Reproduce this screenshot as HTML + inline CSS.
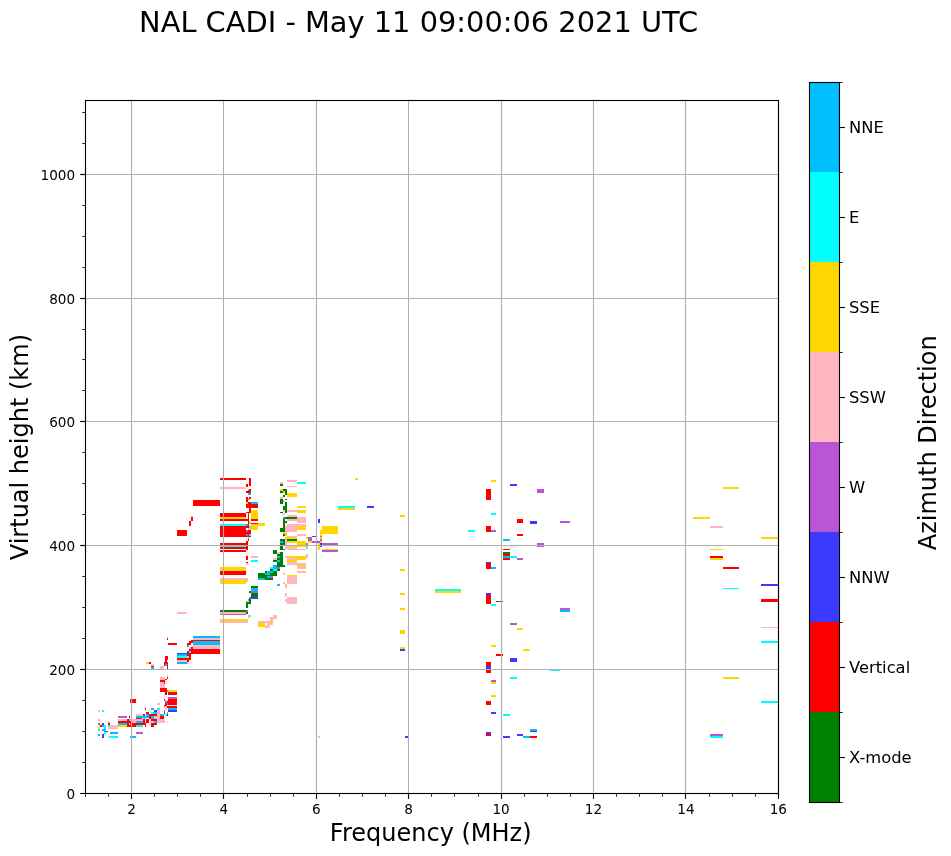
<!DOCTYPE html>
<html><head><meta charset="utf-8"><title>NAL CADI</title>
<style>
html,body{margin:0;padding:0;background:#fff;}
body{width:951px;height:856px;overflow:hidden;font-family:"DejaVu Sans","Liberation Sans",sans-serif;}
svg{display:block}
text{fill:#000;font-family:"DejaVu Sans","Liberation Sans",sans-serif;}
.tk{font-size:13.6px}
.cb{font-size:16.35px}
.lb{font-size:24px}
.tt{font-size:28.85px}
</style></head><body>
<svg width="951" height="856" viewBox="0 0 951 856">
<rect width="951" height="856" fill="#fff"/>
<g shape-rendering="crispEdges">
<path fill="#ffb6c1" d="M98 710h2v2h-2z"/>
<path fill="#00ffff" d="M102 710h2v2h-2z"/>
<path fill="#ffb6c1" d="M98 719h2v2h-2zM108 721h2v2h-2z"/>
<path fill="#ba55d3" d="M98 723h2v2h-2z"/>
<path fill="#ffdbe0" d="M100 723h2v2h-2z"/>
<path fill="#3b3bff" d="M102 723h2v2h-2z"/>
<path fill="#ff0000" d="M108 723h2v2h-2z"/>
<path fill="#ffdbe0" d="M98 725h2v2h-2z"/>
<path fill="#ff0000" d="M100 725h2v2h-2z"/>
<path fill="#00bfff" d="M102 725h2v2h-2z"/>
<path fill="#00ffff" d="M104 725h2v2h-2zM108 725h2v2h-2z"/>
<path fill="#ffb6c1" d="M110 725h8v4h-8z"/>
<path fill="#ffd700" d="M98 727h2v2h-2z"/>
<path fill="#00ffff" d="M104 727h2v2h-2z"/>
<path fill="#ffb6c1" d="M108 727h2v2h-2z"/>
<path fill="#00ffff" d="M98 729h2v2h-2z"/>
<path fill="#00bfff" d="M102 729h4v2h-4zM104 731h2v1h-2z"/>
<path fill="#ff0000" d="M106 731h2v1h-2z"/>
<path fill="#00ffff" d="M104 732h2v2h-2z"/>
<path fill="#00bfff" d="M110 732h8v2h-8zM98 734h2v2h-2z"/>
<path fill="#3b3bff" d="M102 734h2v4h-2z"/>
<path fill="#ffb6c1" d="M108 736h2v2h-2z"/>
<path fill="#00ffff" d="M110 736h8v2h-8z"/>
<path fill="#00bfff" d="M130 736h6v2h-6z"/>
<path fill="#ba55d3" d="M118 716h9v2h-9z"/>
<path fill="#ff0000" d="M129 716h1v2h-1z"/>
<path fill="#ffb6c1" d="M118 719h9v2h-9z"/>
<path fill="#ff0000" d="M127 719h2v2h-2z"/>
<path fill="#00bfff" d="M129 719h1v2h-1z"/>
<path fill="#ffb6c1" d="M130 719h6v4h-6zM136 714h6v2h-6z"/>
<path fill="#00bfff" d="M136 716h6v2h-6z"/>
<path fill="#ff0000" d="M136 718h6v1h-6z"/>
<path fill="#ffb6c1" d="M136 719h6v2h-6z"/>
<path fill="#00bfff" d="M136 721h6v2h-6z"/>
<path fill="#ff0000" d="M136 723h6v2h-6z"/>
<path fill="#00ffff" d="M136 725h6v2h-6z"/>
<path fill="#ff0000" d="M118 721h13v2h-13z"/>
<path fill="#00bfff" d="M118 723h9v2h-9z"/>
<path fill="#ff0000" d="M127 723h9v4h-9z"/>
<path fill="#ffdbe0" d="M129 723h1v2h-1z"/>
<path fill="#ffd700" d="M118 725h9v2h-9z"/>
<path fill="#ba55d3" d="M136 732h7v2h-7z"/>
<path fill="#ff0000" d="M130 699h6v4h-6z"/>
<path fill="#ba55d3" d="M165 701h2v2h-2z"/>
<path fill="#3b3bff" d="M167 701h1v2h-1z"/>
<path fill="#ff0000" d="M168 699h9v6h-9z"/>
<path fill="#ffb6c1" d="M157 703h3v2h-3z"/>
<path fill="#ff0000" d="M165 703h2v2h-2z"/>
<path fill="#ba55d3" d="M167 703h1v2h-1z"/>
<path fill="#ff0000" d="M164 705h3v1h-3z"/>
<path fill="#ffdbe0" d="M168 705h9v1h-9z"/>
<path fill="#ffb6c1" d="M164 706h3v2h-3z"/>
<path fill="#ff0000" d="M167 706h10v2h-10zM145 708h1v2h-1z"/>
<path fill="#00bfff" d="M151 708h3v2h-3z"/>
<path fill="#00ffff" d="M157 708h3v2h-3z"/>
<path fill="#ffb6c1" d="M165 708h2v2h-2z"/>
<path fill="#00bfff" d="M168 708h9v2h-9z"/>
<path fill="#3b3bff" d="M154 710h3v2h-3z"/>
<path fill="#ffb6c1" d="M157 710h3v11h-3z"/>
<path fill="#ba55d3" d="M164 710h1v2h-1z"/>
<path fill="#3b3bff" d="M168 710h9v2h-9z"/>
<path fill="#ff0000" d="M146 712h3v2h-3z"/>
<path fill="#00ffff" d="M151 712h3v2h-3z"/>
<path fill="#00bfff" d="M154 712h3v2h-3z"/>
<path fill="#ff0000" d="M164 712h1v2h-1z"/>
<path fill="#00bfff" d="M167 712h1v2h-1z"/>
<path fill="#ffdbe0" d="M142 714h1v2h-1z"/>
<path fill="#3b3bff" d="M143 714h2v2h-2z"/>
<path fill="#00bfff" d="M146 714h3v2h-3z"/>
<path fill="#ff0000" d="M149 714h8v2h-8z"/>
<path fill="#00bfff" d="M160 714h4v2h-4z"/>
<path fill="#00ffff" d="M165 714h2v2h-2z"/>
<path fill="#ff0000" d="M167 714h1v2h-1z"/>
<path fill="#00bfff" d="M142 716h7v2h-7z"/>
<path fill="#ff0000" d="M149 716h2v3h-2z"/>
<path fill="#00bfff" d="M151 716h3v3h-3z"/>
<path fill="#ffb6c1" d="M154 716h3v3h-3z"/>
<path fill="#ff0000" d="M160 716h4v3h-4z"/>
<path fill="#ffdbe0" d="M164 716h1v2h-1z"/>
<path fill="#00ffff" d="M143 718h3v1h-3z"/>
<path fill="#ffb6c1" d="M142 719h1v2h-1z"/>
<path fill="#ff0000" d="M143 719h2v4h-2z"/>
<path fill="#ffb6c1" d="M145 719h1v4h-1z"/>
<path fill="#ff0000" d="M146 719h3v4h-3z"/>
<path fill="#ffdbe0" d="M149 719h2v6h-2z"/>
<path fill="#ff0000" d="M151 719h6v2h-6z"/>
<path fill="#ffb6c1" d="M157 719h8v4h-8z"/>
<path fill="#00bfff" d="M142 721h1v2h-1z"/>
<path fill="#ffb6c1" d="M151 721h3v2h-3z"/>
<path fill="#00bfff" d="M154 721h3v2h-3z"/>
<path fill="#ffb6c1" d="M167 721h1v2h-1z"/>
<path fill="#ff0000" d="M142 723h4v2h-4zM151 723h6v2h-6z"/>
<path fill="#00ffff" d="M142 725h1v2h-1z"/>
<path fill="#ff0000" d="M145 725h1v2h-1zM151 725h3v2h-3z"/>
<path fill="#ffd700" d="M168 690h9v2h-9z"/>
<path fill="#ff0000" d="M168 692h9v3h-9z"/>
<path fill="#ba55d3" d="M168 697h9v2h-9z"/>
<path fill="#ff0000" d="M168 699h9v2h-9zM160 688h7v4h-7z"/>
<path fill="#00bfff" d="M167 690h1v2h-1z"/>
<path fill="#ffb6c1" d="M160 682h5v6h-5z"/>
<path fill="#ff0000" d="M160 680h5v2h-5z"/>
<path fill="#ffb6c1" d="M160 677h5v3h-5z"/>
<path fill="#ff0000" d="M167 677h1v2h-1zM165 679h2v1h-2z"/>
<path fill="#ffb6c1" d="M167 675h1v2h-1z"/>
<path fill="#ffdbe0" d="M165 680h2v2h-2z"/>
<path fill="#ff0000" d="M164 682h1v2h-1zM165 692h2v3h-2z"/>
<path fill="#ffdbe0" d="M164 692h1v7h-1z"/>
<path fill="#ff0000" d="M164 699h1v2h-1z"/>
<path fill="#ffdbe0" d="M165 699h3v2h-3zM167 697h1v2h-1z"/>
<path fill="#ffd700" d="M146 662h3v2h-3z"/>
<path fill="#ff0000" d="M149 662h2v2h-2z"/>
<path fill="#ffb6c1" d="M151 664h3v2h-3z"/>
<path fill="#ff0000" d="M151 666h3v1h-3z"/>
<path fill="#00bfff" d="M151 667h3v2h-3z"/>
<path fill="#ffb6c1" d="M160 666h4v3h-4z"/>
<path fill="#ff0000" d="M165 656h3v4h-3zM165 660h2v2h-2z"/>
<path fill="#ffdbe0" d="M164 660h1v2h-1z"/>
<path fill="#ff0000" d="M164 662h4v2h-4zM164 664h1v2h-1z"/>
<path fill="#00bfff" d="M165 664h2v2h-2z"/>
<path fill="#3b3bff" d="M167 664h1v2h-1z"/>
<path fill="#ff0000" d="M167 666h1v3h-1z"/>
<path fill="#3b3bff" d="M177 653h10v1h-10z"/>
<path fill="#00bfff" d="M177 654h10v2h-10z"/>
<path fill="#00ffff" d="M177 656h10v2h-10z"/>
<path fill="#ffd700" d="M187 656h2v2h-2z"/>
<path fill="#ff0000" d="M177 658h14v2h-14z"/>
<path fill="#ffb6c1" d="M177 660h10v2h-10z"/>
<path fill="#ff0000" d="M187 660h2v2h-2z"/>
<path fill="#00bfff" d="M177 662h10v2h-10z"/>
<path fill="#ffb6c1" d="M187 662h2v2h-2z"/>
<path fill="#ff0000" d="M168 643h9v2h-9zM167 638h1v2h-1z"/>
<path fill="#ffdbe0" d="M167 636h1v2h-1z"/>
<path fill="#00bfff" d="M193 636h27v2h-27z"/>
<path fill="#ffb6c1" d="M193 638h27v2h-27z"/>
<path fill="#ff0000" d="M191 640h29v1h-29z"/>
<path fill="#00bfff" d="M193 641h27v4h-27z"/>
<path fill="#ffb6c1" d="M193 645h27v4h-27z"/>
<path fill="#ff0000" d="M189 649h31v4h-31zM187 653h33v1h-33zM189 641h4v2h-4zM187 643h4v2h-4z"/>
<path fill="#00bfff" d="M187 645h2v2h-2z"/>
<path fill="#ffdbe0" d="M191 645h2v2h-2z"/>
<path fill="#ffb6c1" d="M189 647h2v2h-2z"/>
<path fill="#ff0000" d="M191 647h2v2h-2z"/>
<path fill="#3b3bff" d="M187 651h2v2h-2z"/>
<path fill="#00ffff" d="M189 651h2v2h-2z"/>
<path fill="#ff0000" d="M187 654h4v2h-4zM189 656h2v2h-2z"/>
<path fill="#ffd700" d="M220 582h26v2h-26z"/>
<path fill="#008000" d="M251 586h7v2h-7z"/>
<path fill="#00bfff" d="M251 588h7v3h-7z"/>
<path fill="#ba55d3" d="M251 591h7v2h-7z"/>
<path fill="#008000" d="M249 591h2v2h-2zM251 593h7v4h-7z"/>
<path fill="#3b3bff" d="M251 597h7v2h-7z"/>
<path fill="#ba55d3" d="M249 597h2v2h-2z"/>
<path fill="#00bfff" d="M248 599h1v2h-1z"/>
<path fill="#008000" d="M249 599h2v5h-2z"/>
<path fill="#ffb6c1" d="M246 601h2v1h-2z"/>
<path fill="#008000" d="M246 602h3v2h-3zM246 604h2v4h-2zM220 610h26v2h-26z"/>
<path fill="#ba55d3" d="M246 610h2v2h-2z"/>
<path fill="#ffb6c1" d="M220 612h26v2h-26z"/>
<path fill="#008000" d="M246 612h2v2h-2z"/>
<path fill="#ba55d3" d="M220 614h26v1h-26z"/>
<path fill="#ffd700" d="M248 615h1v2h-1z"/>
<path fill="#00ffff" d="M249 615h2v2h-2z"/>
<path fill="#ffb6c1" d="M248 617h1v2h-1z"/>
<path fill="#ffd700" d="M220 619h28v2h-28z"/>
<path fill="#ffb6c1" d="M220 621h28v2h-28zM177 612h10v2h-10z"/>
<path fill="#ff0000" d="M220 543h26v2h-26zM246 541h2v4h-2zM248 539h1v2h-1z"/>
<path fill="#ffdbe0" d="M248 542h1v3h-1z"/>
<path fill="#00ffff" d="M220 545h26v2h-26z"/>
<path fill="#ff0000" d="M246 545h2v5h-2zM220 547h26v2h-26zM220 550h26v2h-26z"/>
<path fill="#ffdbe0" d="M246 554h2v2h-2z"/>
<path fill="#ff0000" d="M246 556h2v4h-2z"/>
<path fill="#ffdbe0" d="M248 556h1v2h-1z"/>
<path fill="#ffb6c1" d="M251 556h7v2h-7z"/>
<path fill="#00ffff" d="M251 560h7v2h-7z"/>
<path fill="#ff0000" d="M246 562h2v1h-2z"/>
<path fill="#ffb6c1" d="M246 563h2v2h-2z"/>
<path fill="#ffd700" d="M220 567h26v4h-26z"/>
<path fill="#ff0000" d="M220 571h26v4h-26z"/>
<path fill="#ffb6c1" d="M220 578h28v2h-28z"/>
<path fill="#ffd700" d="M220 580h28v2h-28z"/>
<path fill="#008000" d="M258 573h7v5h-7z"/>
<path fill="#ff0000" d="M193 500h27v6h-27zM220 513h26v4h-26z"/>
<path fill="#ffd700" d="M220 517h26v2h-26z"/>
<path fill="#ff0000" d="M220 519h28v2h-28z"/>
<path fill="#00ffff" d="M220 524h26v2h-26z"/>
<path fill="#ba55d3" d="M246 524h2v2h-2z"/>
<path fill="#ff0000" d="M220 526h26v11h-26zM246 497h2v5h-2z"/>
<path fill="#ffd700" d="M246 502h2v2h-2z"/>
<path fill="#ff0000" d="M246 504h2v4h-2zM246 512h3v1h-3zM246 526h2v2h-2z"/>
<path fill="#ba55d3" d="M246 530h2v2h-2z"/>
<path fill="#ff0000" d="M246 532h2v2h-2z"/>
<path fill="#ba55d3" d="M246 534h2v2h-2z"/>
<path fill="#ff0000" d="M246 536h2v1h-2zM248 512h1v25h-1zM248 499h1v1h-1z"/>
<path fill="#00ffff" d="M248 537h1v2h-1z"/>
<path fill="#ff0000" d="M249 497h2v2h-2zM248 502h3v6h-3zM249 508h2v5h-2z"/>
<path fill="#ffd700" d="M249 521h2v2h-2z"/>
<path fill="#00ffff" d="M249 523h2v1h-2zM249 526h2v2h-2z"/>
<path fill="#ffb6c1" d="M248 528h3v2h-3z"/>
<path fill="#ff0000" d="M248 530h3v4h-3z"/>
<path fill="#00ffff" d="M249 534h2v2h-2z"/>
<path fill="#ff0000" d="M248 536h3v1h-3z"/>
<path fill="#00bfff" d="M251 502h7v2h-7z"/>
<path fill="#ff0000" d="M251 504h7v4h-7z"/>
<path fill="#ffd700" d="M251 510h7v9h-7z"/>
<path fill="#ff0000" d="M251 519h7v2h-7zM251 523h7v1h-7z"/>
<path fill="#ffd700" d="M251 524h7v6h-7zM258 523h7v3h-7z"/>
<path fill="#ff0000" d="M220 478h26v2h-26z"/>
<path fill="#ffb6c1" d="M220 487h26v2h-26z"/>
<path fill="#ff0000" d="M249 478h2v8h-2z"/>
<path fill="#ffdbe0" d="M248 478h1v2h-1z"/>
<path fill="#ff0000" d="M246 484h2v3h-2zM249 489h2v4h-2zM246 491h3v2h-3zM248 490h1v1h-1z"/>
<path fill="#00bfff" d="M248 493h3v2h-3z"/>
<path fill="#ffdbe0" d="M191 515h2v2h-2z"/>
<path fill="#ff0000" d="M191 517h2v4h-2zM189 521h2v5h-2zM177 530h10v6h-10z"/>
<path fill="#ffb6c1" d="M287 480h10v2h-10z"/>
<path fill="#00ffff" d="M297 482h9v2h-9z"/>
<path fill="#ffb6c1" d="M280 482h3v2h-3z"/>
<path fill="#008000" d="M280 484h3v2h-3z"/>
<path fill="#ffb6c1" d="M287 486h10v1h-10z"/>
<path fill="#ffd700" d="M280 489h3v2h-3z"/>
<path fill="#008000" d="M283 489h4v2h-4zM280 491h3v2h-3z"/>
<path fill="#ffd700" d="M283 491h2v2h-2z"/>
<path fill="#008000" d="M285 491h2v4h-2z"/>
<path fill="#ffd700" d="M287 493h10v4h-10z"/>
<path fill="#008000" d="M283 495h2v2h-2z"/>
<path fill="#ffb6c1" d="M280 497h3v2h-3z"/>
<path fill="#008000" d="M280 499h3v5h-3zM285 499h2v1h-2z"/>
<path fill="#ffb6c1" d="M283 500h2v2h-2z"/>
<path fill="#008000" d="M285 502h2v11h-2zM283 506h2v4h-2z"/>
<path fill="#ffd700" d="M297 506h9v2h-9z"/>
<path fill="#ffb6c1" d="M283 510h2v2h-2zM287 510h10v2h-10z"/>
<path fill="#ffd700" d="M297 510h9v3h-9z"/>
<path fill="#008000" d="M280 512h3v1h-3z"/>
<path fill="#ffb6c1" d="M283 513h2v2h-2zM287 515h10v2h-10z"/>
<path fill="#00ffff" d="M338 506h17v2h-17z"/>
<path fill="#ffd700" d="M338 508h17v2h-17z"/>
<path fill="#ffb6c1" d="M251 556h7v2h-7z"/>
<path fill="#ba55d3" d="M283 517h2v2h-2z"/>
<path fill="#008000" d="M285 517h12v2h-12z"/>
<path fill="#ffb6c1" d="M297 517h9v6h-9z"/>
<path fill="#008000" d="M283 519h2v13h-2z"/>
<path fill="#ffb6c1" d="M287 519h10v2h-10z"/>
<path fill="#008000" d="M285 521h2v2h-2z"/>
<path fill="#ffb6c1" d="M287 524h10v8h-10zM297 524h9v2h-9zM285 526h2v8h-2z"/>
<path fill="#ffd700" d="M297 526h9v4h-9z"/>
<path fill="#008000" d="M280 528h3v4h-3z"/>
<path fill="#ffd700" d="M283 532h2v2h-2z"/>
<path fill="#008000" d="M283 534h2v2h-2z"/>
<path fill="#ffd700" d="M285 534h2v2h-2z"/>
<path fill="#ffb6c1" d="M297 534h9v2h-9zM287 536h10v1h-10zM283 536h2v1h-2z"/>
<path fill="#ffd700" d="M285 537h12v2h-12z"/>
<path fill="#008000" d="M280 539h5v2h-5z"/>
<path fill="#ffb6c1" d="M285 539h2v10h-2z"/>
<path fill="#008000" d="M287 539h10v2h-10z"/>
<path fill="#00bfff" d="M280 541h3v2h-3z"/>
<path fill="#008000" d="M283 541h2v2h-2z"/>
<path fill="#ffd700" d="M287 541h10v2h-10zM297 541h9v4h-9z"/>
<path fill="#008000" d="M280 543h5v2h-5zM280 545h3v5h-3z"/>
<path fill="#ffd700" d="M287 545h21v2h-21z"/>
<path fill="#ffb6c1" d="M287 547h10v3h-10z"/>
<path fill="#3b3bff" d="M283 549h2v1h-2z"/>
<path fill="#008000" d="M273 550h4v4h-4z"/>
<path fill="#ffb6c1" d="M277 552h3v2h-3z"/>
<path fill="#008000" d="M280 552h3v8h-3zM277 554h3v2h-3z"/>
<path fill="#00bfff" d="M277 556h3v2h-3z"/>
<path fill="#ffb6c1" d="M285 556h2v2h-2z"/>
<path fill="#ffd700" d="M287 556h19v2h-19z"/>
<path fill="#ffb6c1" d="M273 558h4v2h-4z"/>
<path fill="#008000" d="M277 558h3v2h-3z"/>
<path fill="#ffb6c1" d="M287 558h10v2h-10z"/>
<path fill="#ffd700" d="M297 558h9v2h-9z"/>
<path fill="#008000" d="M294 517h3v2h-3z"/>
<path fill="#ffb6c1" d="M294 519h3v2h-3z"/>
<path fill="#3b3bff" d="M318 519h2v4h-2z"/>
<path fill="#ffb6c1" d="M294 524h3v8h-3z"/>
<path fill="#ffd700" d="M322 526h16v4h-16zM320 530h18v4h-18zM320 534h2v2h-2z"/>
<path fill="#ffb6c1" d="M294 536h3v1h-3z"/>
<path fill="#3b3bff" d="M312 536h4v1h-4z"/>
<path fill="#ba55d3" d="M320 536h2v1h-2z"/>
<path fill="#ffd700" d="M294 537h3v2h-3zM306 537h2v2h-2z"/>
<path fill="#ba55d3" d="M308 537h4v4h-4z"/>
<path fill="#ffd700" d="M320 537h2v2h-2z"/>
<path fill="#008000" d="M294 539h3v2h-3z"/>
<path fill="#ba55d3" d="M320 539h2v2h-2z"/>
<path fill="#ffd700" d="M294 541h12v2h-12zM308 541h4v2h-4z"/>
<path fill="#ba55d3" d="M312 541h4v2h-4z"/>
<path fill="#3b3bff" d="M316 541h2v2h-2z"/>
<path fill="#ba55d3" d="M318 541h2v2h-2z"/>
<path fill="#ffd700" d="M320 541h2v2h-2z"/>
<path fill="#ba55d3" d="M306 543h2v2h-2z"/>
<path fill="#ffd700" d="M318 543h2v7h-2z"/>
<path fill="#3b3bff" d="M320 543h2v4h-2z"/>
<path fill="#ba55d3" d="M322 543h16v2h-16z"/>
<path fill="#ffb6c1" d="M294 547h3v2h-3z"/>
<path fill="#00ffff" d="M306 547h2v2h-2z"/>
<path fill="#ffb6c1" d="M294 549h12v1h-12z"/>
<path fill="#ffd700" d="M322 549h16v1h-16z"/>
<path fill="#ba55d3" d="M322 550h16v2h-16z"/>
<path fill="#ffb6c1" d="M306 554h2v4h-2z"/>
<path fill="#00ffff" d="M251 560h7v2h-7z"/>
<path fill="#008000" d="M273 560h4v2h-4z"/>
<path fill="#00bfff" d="M277 560h3v2h-3z"/>
<path fill="#008000" d="M280 560h3v2h-3z"/>
<path fill="#ffd700" d="M287 560h10v2h-10z"/>
<path fill="#008000" d="M277 562h6v3h-6z"/>
<path fill="#ffb6c1" d="M287 562h10v1h-10zM287 563h19v2h-19z"/>
<path fill="#00bfff" d="M273 565h4v4h-4z"/>
<path fill="#008000" d="M277 565h8v2h-8z"/>
<path fill="#ffd700" d="M297 565h9v2h-9z"/>
<path fill="#00ffff" d="M270 567h3v2h-3z"/>
<path fill="#ba55d3" d="M277 567h3v2h-3z"/>
<path fill="#ffb6c1" d="M297 567h9v2h-9z"/>
<path fill="#008000" d="M270 569h3v2h-3z"/>
<path fill="#00ffff" d="M273 569h4v2h-4z"/>
<path fill="#008000" d="M277 569h3v2h-3zM265 571h2v2h-2z"/>
<path fill="#00bfff" d="M267 571h6v2h-6z"/>
<path fill="#008000" d="M273 571h4v2h-4z"/>
<path fill="#ffb6c1" d="M297 571h9v2h-9z"/>
<path fill="#008000" d="M258 573h7v5h-7z"/>
<path fill="#00bfff" d="M265 573h5v2h-5z"/>
<path fill="#008000" d="M270 573h7v2h-7z"/>
<path fill="#ffb6c1" d="M283 573h2v2h-2z"/>
<path fill="#008000" d="M258 575h19v1h-19z"/>
<path fill="#ffd700" d="M287 575h10v1h-10z"/>
<path fill="#008000" d="M258 576h9v2h-9z"/>
<path fill="#00bfff" d="M267 576h3v2h-3z"/>
<path fill="#ba55d3" d="M270 576h3v2h-3z"/>
<path fill="#ffb6c1" d="M287 576h10v8h-10z"/>
<path fill="#00bfff" d="M258 578h7v2h-7z"/>
<path fill="#008000" d="M265 578h8v2h-8z"/>
<path fill="#ffd700" d="M283 582h2v2h-2z"/>
<path fill="#00bfff" d="M277 584h3v2h-3z"/>
<path fill="#ffb6c1" d="M285 584h2v4h-2zM285 593h2v4h-2zM287 597h10v7h-10zM285 599h2v3h-2zM273 615h4v2h-4zM270 617h7v2h-7zM270 619h3v2h-3zM258 621h12v2h-12z"/>
<path fill="#ffd700" d="M270 621h3v2h-3zM258 623h7v4h-7z"/>
<path fill="#ffb6c1" d="M267 623h3v5h-3zM270 623h3v2h-3zM265 625h2v2h-2z"/>
<path fill="#ffd700" d="M265 627h2v1h-2zM355 478h3v2h-3z"/>
<path fill="#3b3bff" d="M367 506h7v2h-7z"/>
<path fill="#ffd700" d="M400 515h5v2h-5zM400 569h5v2h-5zM400 593h5v2h-5zM400 608h5v2h-5zM400 630h5v4h-5zM400 647h5v2h-5z"/>
<path fill="#3b3bff" d="M400 649h5v2h-5z"/>
<path fill="#ffb6c1" d="M318 736h2v2h-2z"/>
<path fill="#3b3bff" d="M405 736h3v2h-3z"/>
<path fill="#00ffff" d="M435 589h26v2h-26z"/>
<path fill="#ffd700" d="M435 591h26v2h-26zM491 480h5v2h-5z"/>
<path fill="#3b3bff" d="M510 484h7v2h-7z"/>
<path fill="#ba55d3" d="M537 489h7v4h-7z"/>
<path fill="#ff0000" d="M486 489h5v11h-5z"/>
<path fill="#00ffff" d="M491 513h5v2h-5z"/>
<path fill="#ff0000" d="M517 519h6v4h-6z"/>
<path fill="#3b3bff" d="M530 521h7v3h-7z"/>
<path fill="#ba55d3" d="M560 521h10v2h-10z"/>
<path fill="#ff0000" d="M486 526h5v6h-5z"/>
<path fill="#ba55d3" d="M491 530h5v2h-5z"/>
<path fill="#00ffff" d="M468 530h7v2h-7z"/>
<path fill="#ff0000" d="M517 534h6v2h-6z"/>
<path fill="#00bfff" d="M503 539h7v2h-7z"/>
<path fill="#ba55d3" d="M537 543h7v4h-7z"/>
<path fill="#ff0000" d="M503 549h7v1h-7z"/>
<path fill="#008000" d="M503 552h7v2h-7z"/>
<path fill="#ff0000" d="M503 554h7v2h-7z"/>
<path fill="#00bfff" d="M503 556h7v2h-7z"/>
<path fill="#00ffff" d="M510 556h7v2h-7z"/>
<path fill="#ff0000" d="M503 558h7v2h-7z"/>
<path fill="#ba55d3" d="M517 558h6v2h-6z"/>
<path fill="#3b3bff" d="M486 562h5v1h-5z"/>
<path fill="#ff0000" d="M486 563h5v6h-5z"/>
<path fill="#00bfff" d="M491 567h5v2h-5z"/>
<path fill="#3b3bff" d="M486 593h5v2h-5z"/>
<path fill="#ff0000" d="M486 595h5v9h-5z"/>
<path fill="#00ffff" d="M491 604h5v2h-5z"/>
<path fill="#008000" d="M496 601h7v1h-7z"/>
<path fill="#ba55d3" d="M560 608h10v2h-10z"/>
<path fill="#00bfff" d="M560 610h10v2h-10z"/>
<path fill="#ba55d3" d="M510 623h7v2h-7z"/>
<path fill="#ffd700" d="M517 628h6v2h-6zM491 645h5v2h-5zM523 649h7v2h-7z"/>
<path fill="#ff0000" d="M496 654h7v2h-7z"/>
<path fill="#3b3bff" d="M510 658h7v4h-7z"/>
<path fill="#ff0000" d="M486 662h5v4h-5z"/>
<path fill="#3b3bff" d="M486 666h5v3h-5z"/>
<path fill="#ff0000" d="M486 669h5v4h-5z"/>
<path fill="#00ffff" d="M550 669h10v2h-10zM510 677h7v2h-7z"/>
<path fill="#ba55d3" d="M491 680h5v2h-5z"/>
<path fill="#ffd700" d="M491 682h5v2h-5zM491 695h5v2h-5z"/>
<path fill="#ff0000" d="M486 701h5v4h-5z"/>
<path fill="#3b3bff" d="M491 712h5v2h-5z"/>
<path fill="#00ffff" d="M503 714h7v2h-7z"/>
<path fill="#00bfff" d="M530 729h7v2h-7z"/>
<path fill="#3b3bff" d="M530 731h7v1h-7zM486 732h5v2h-5z"/>
<path fill="#ff0000" d="M486 734h5v2h-5z"/>
<path fill="#3b3bff" d="M517 734h6v2h-6zM503 736h7v2h-7z"/>
<path fill="#00bfff" d="M523 736h7v2h-7z"/>
<path fill="#ff0000" d="M530 736h7v2h-7z"/>
<path fill="#ffd700" d="M723 487h16v2h-16zM693 517h17v2h-17z"/>
<path fill="#ffb6c1" d="M710 526h13v2h-13z"/>
<path fill="#ffd700" d="M761 537h17v2h-17zM710 549h13v1h-13z"/>
<path fill="#ff0000" d="M710 556h13v2h-13z"/>
<path fill="#ffd700" d="M710 558h13v2h-13z"/>
<path fill="#ff0000" d="M723 567h16v2h-16z"/>
<path fill="#3b3bff" d="M761 584h17v2h-17z"/>
<path fill="#00ffff" d="M723 588h16v1h-16z"/>
<path fill="#ff0000" d="M761 599h17v3h-17z"/>
<path fill="#ffb6c1" d="M761 627h17v1h-17z"/>
<path fill="#00ffff" d="M761 641h17v2h-17z"/>
<path fill="#ffd700" d="M723 677h16v2h-16z"/>
<path fill="#00ffff" d="M761 701h17v2h-17z"/>
<path fill="#ba55d3" d="M710 734h13v2h-13z"/>
<path fill="#00ffff" d="M710 736h13v2h-13z"/>
</g>
<g stroke="#b0b0b0" stroke-width="1.11" fill="none"><line x1="131.5" y1="100.5" x2="131.5" y2="793.5"/><line x1="223.5" y1="100.5" x2="223.5" y2="793.5"/><line x1="316.5" y1="100.5" x2="316.5" y2="793.5"/><line x1="408.5" y1="100.5" x2="408.5" y2="793.5"/><line x1="501.5" y1="100.5" x2="501.5" y2="793.5"/><line x1="593.5" y1="100.5" x2="593.5" y2="793.5"/><line x1="685.5" y1="100.5" x2="685.5" y2="793.5"/><line x1="778.5" y1="100.5" x2="778.5" y2="793.5"/><line x1="85.5" y1="793.5" x2="778.5" y2="793.5"/><line x1="85.5" y1="669.5" x2="778.5" y2="669.5"/><line x1="85.5" y1="545.5" x2="778.5" y2="545.5"/><line x1="85.5" y1="421.5" x2="778.5" y2="421.5"/><line x1="85.5" y1="298.5" x2="778.5" y2="298.5"/><line x1="85.5" y1="174.5" x2="778.5" y2="174.5"/></g>
<g stroke="#000" stroke-width="1.11"><line x1="131.5" y1="793.5" x2="131.5" y2="798.86"/><line x1="223.5" y1="793.5" x2="223.5" y2="798.86"/><line x1="316.5" y1="793.5" x2="316.5" y2="798.86"/><line x1="408.5" y1="793.5" x2="408.5" y2="798.86"/><line x1="501.5" y1="793.5" x2="501.5" y2="798.86"/><line x1="593.5" y1="793.5" x2="593.5" y2="798.86"/><line x1="685.5" y1="793.5" x2="685.5" y2="798.86"/><line x1="778.5" y1="793.5" x2="778.5" y2="798.86"/><line x1="85.5" y1="793.5" x2="80.14" y2="793.5"/><line x1="85.5" y1="669.5" x2="80.14" y2="669.5"/><line x1="85.5" y1="545.5" x2="80.14" y2="545.5"/><line x1="85.5" y1="421.5" x2="80.14" y2="421.5"/><line x1="85.5" y1="298.5" x2="80.14" y2="298.5"/><line x1="85.5" y1="174.5" x2="80.14" y2="174.5"/></g>
<g stroke="#000" stroke-width="0.83"><line x1="85.5" y1="793.5" x2="85.5" y2="796.78"/><line x1="108.5" y1="793.5" x2="108.5" y2="796.78"/><line x1="154.5" y1="793.5" x2="154.5" y2="796.78"/><line x1="177.5" y1="793.5" x2="177.5" y2="796.78"/><line x1="200.5" y1="793.5" x2="200.5" y2="796.78"/><line x1="247.5" y1="793.5" x2="247.5" y2="796.78"/><line x1="270.5" y1="793.5" x2="270.5" y2="796.78"/><line x1="293.5" y1="793.5" x2="293.5" y2="796.78"/><line x1="339.5" y1="793.5" x2="339.5" y2="796.78"/><line x1="362.5" y1="793.5" x2="362.5" y2="796.78"/><line x1="385.5" y1="793.5" x2="385.5" y2="796.78"/><line x1="431.5" y1="793.5" x2="431.5" y2="796.78"/><line x1="454.5" y1="793.5" x2="454.5" y2="796.78"/><line x1="478.5" y1="793.5" x2="478.5" y2="796.78"/><line x1="524.5" y1="793.5" x2="524.5" y2="796.78"/><line x1="547.5" y1="793.5" x2="547.5" y2="796.78"/><line x1="570.5" y1="793.5" x2="570.5" y2="796.78"/><line x1="616.5" y1="793.5" x2="616.5" y2="796.78"/><line x1="639.5" y1="793.5" x2="639.5" y2="796.78"/><line x1="662.5" y1="793.5" x2="662.5" y2="796.78"/><line x1="709.5" y1="793.5" x2="709.5" y2="796.78"/><line x1="732.5" y1="793.5" x2="732.5" y2="796.78"/><line x1="755.5" y1="793.5" x2="755.5" y2="796.78"/><line x1="85.5" y1="762.5" x2="82.22" y2="762.5"/><line x1="85.5" y1="731.5" x2="82.22" y2="731.5"/><line x1="85.5" y1="700.5" x2="82.22" y2="700.5"/><line x1="85.5" y1="638.5" x2="82.22" y2="638.5"/><line x1="85.5" y1="607.5" x2="82.22" y2="607.5"/><line x1="85.5" y1="576.5" x2="82.22" y2="576.5"/><line x1="85.5" y1="514.5" x2="82.22" y2="514.5"/><line x1="85.5" y1="483.5" x2="82.22" y2="483.5"/><line x1="85.5" y1="452.5" x2="82.22" y2="452.5"/><line x1="85.5" y1="390.5" x2="82.22" y2="390.5"/><line x1="85.5" y1="359.5" x2="82.22" y2="359.5"/><line x1="85.5" y1="329.5" x2="82.22" y2="329.5"/><line x1="85.5" y1="267.5" x2="82.22" y2="267.5"/><line x1="85.5" y1="236.5" x2="82.22" y2="236.5"/><line x1="85.5" y1="205.5" x2="82.22" y2="205.5"/><line x1="85.5" y1="143.5" x2="82.22" y2="143.5"/><line x1="85.5" y1="112.5" x2="82.22" y2="112.5"/></g>
<rect x="85.5" y="100.5" width="693.0" height="693.0" fill="none" stroke="#000" stroke-width="1.11"/>
<text class="tk" x="131.50" y="814.3" text-anchor="middle">2</text><text class="tk" x="223.90" y="814.3" text-anchor="middle">4</text><text class="tk" x="316.30" y="814.3" text-anchor="middle">6</text><text class="tk" x="408.70" y="814.3" text-anchor="middle">8</text><text class="tk" x="501.10" y="814.3" text-anchor="middle">10</text><text class="tk" x="593.50" y="814.3" text-anchor="middle">12</text><text class="tk" x="685.90" y="814.3" text-anchor="middle">14</text><text class="tk" x="778.30" y="814.3" text-anchor="middle">16</text><text class="tk" x="75.1" y="798.60" text-anchor="end">0</text><text class="tk" x="75.1" y="674.85" text-anchor="end">200</text><text class="tk" x="75.1" y="551.10" text-anchor="end">400</text><text class="tk" x="75.1" y="427.35" text-anchor="end">600</text><text class="tk" x="75.1" y="303.60" text-anchor="end">800</text><text class="tk" x="75.1" y="179.85" text-anchor="end">1000</text>
<text class="lb" x="430.7" y="840.5" text-anchor="middle">Frequency (MHz)</text>
<text class="lb" transform="translate(27.7,447.1) rotate(-90)" text-anchor="middle">Virtual height (km)</text>
<text class="tt" x="418.6" y="32.3" text-anchor="middle">NAL CADI - May 11 09:00:06 2021 UTC</text>
<rect x="809.5" y="712" width="30.0" height="90.5" fill="#008000" shape-rendering="crispEdges"/><rect x="809.5" y="622" width="30.0" height="90" fill="#ff0000" shape-rendering="crispEdges"/><rect x="809.5" y="532" width="30.0" height="90" fill="#3b3bff" shape-rendering="crispEdges"/><rect x="809.5" y="442" width="30.0" height="90" fill="#ba55d3" shape-rendering="crispEdges"/><rect x="809.5" y="352" width="30.0" height="90" fill="#ffb6c1" shape-rendering="crispEdges"/><rect x="809.5" y="262" width="30.0" height="90" fill="#ffd700" shape-rendering="crispEdges"/><rect x="809.5" y="172" width="30.0" height="90" fill="#00ffff" shape-rendering="crispEdges"/><rect x="809.5" y="82" width="30.0" height="90" fill="#00bfff" shape-rendering="crispEdges"/><rect x="809.5" y="82.5" width="30.0" height="720.0" fill="none" stroke="#000" stroke-width="1.11"/>
<text class="cb" x="849.0" y="763.00">X-mode</text><text class="cb" x="849.0" y="673.00">Vertical</text><text class="cb" x="849.0" y="583.00">NNW</text><text class="cb" x="849.0" y="493.00">W</text><text class="cb" x="849.0" y="403.00">SSW</text><text class="cb" x="849.0" y="313.00">SSE</text><text class="cb" x="849.0" y="223.00">E</text><text class="cb" x="849.0" y="133.00">NNE</text><g stroke="#000"><line x1="839.5" y1="802.50" x2="842.78" y2="802.50" stroke-width="0.83"/><line x1="839.5" y1="712.50" x2="842.78" y2="712.50" stroke-width="0.83"/><line x1="839.5" y1="622.50" x2="842.78" y2="622.50" stroke-width="0.83"/><line x1="839.5" y1="532.50" x2="842.78" y2="532.50" stroke-width="0.83"/><line x1="839.5" y1="442.50" x2="842.78" y2="442.50" stroke-width="0.83"/><line x1="839.5" y1="352.50" x2="842.78" y2="352.50" stroke-width="0.83"/><line x1="839.5" y1="262.50" x2="842.78" y2="262.50" stroke-width="0.83"/><line x1="839.5" y1="172.50" x2="842.78" y2="172.50" stroke-width="0.83"/><line x1="839.5" y1="82.50" x2="842.78" y2="82.50" stroke-width="0.83"/><line x1="839.5" y1="757.50" x2="844.86" y2="757.50" stroke-width="1.11"/><line x1="839.5" y1="667.50" x2="844.86" y2="667.50" stroke-width="1.11"/><line x1="839.5" y1="577.50" x2="844.86" y2="577.50" stroke-width="1.11"/><line x1="839.5" y1="487.50" x2="844.86" y2="487.50" stroke-width="1.11"/><line x1="839.5" y1="397.50" x2="844.86" y2="397.50" stroke-width="1.11"/><line x1="839.5" y1="307.50" x2="844.86" y2="307.50" stroke-width="1.11"/><line x1="839.5" y1="217.50" x2="844.86" y2="217.50" stroke-width="1.11"/><line x1="839.5" y1="127.50" x2="844.86" y2="127.50" stroke-width="1.11"/></g>
<text class="lb" transform="translate(935.8,442.8) rotate(-90)" text-anchor="middle">Azimuth Direction</text>
</svg></body></html>
